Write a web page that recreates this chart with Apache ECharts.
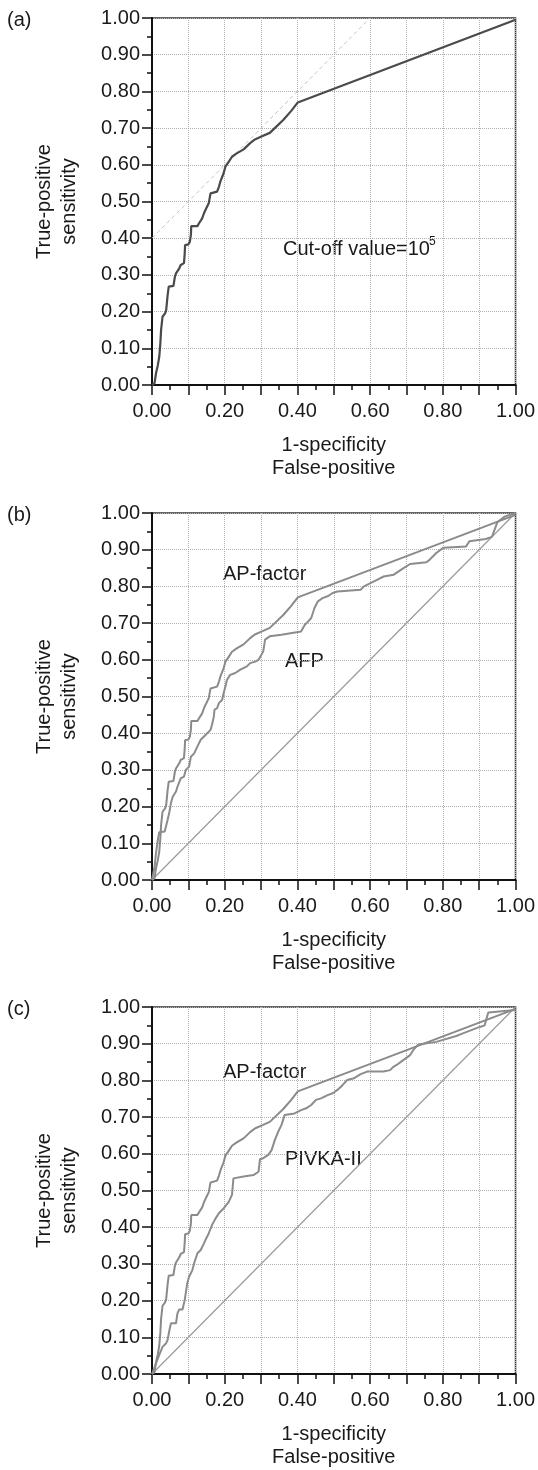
<!DOCTYPE html>
<html>
<head>
<meta charset="utf-8">
<script src="https://cdn.jsdelivr.net/npm/echarts@6/dist/echarts.min.js"></script>
<style>
  html, body { margin: 0; padding: 0; background: #fff; }
  #main { width: 538px; height: 1470px; }
</style>
</head>
<body>
<div id="main"></div>
<script>
// ROC curves, values as [1-specificity, sensitivity]
var apFactor = [
    [0, 0], [0.007, 0.005], [0.011, 0.032], [0.016, 0.054], [0.020, 0.077], [0.023, 0.114],
    [0.025, 0.150], [0.027, 0.168], [0.029, 0.186], [0.036, 0.195], [0.039, 0.204],
    [0.043, 0.245], [0.046, 0.268], [0.059, 0.270], [0.063, 0.295], [0.066, 0.304],
    [0.075, 0.318], [0.079, 0.327], [0.088, 0.332], [0.090, 0.359], [0.091, 0.381],
    [0.100, 0.383], [0.104, 0.390], [0.107, 0.409], [0.108, 0.433], [0.125, 0.433],
    [0.129, 0.440], [0.138, 0.454], [0.143, 0.468], [0.147, 0.477], [0.156, 0.495],
    [0.161, 0.522], [0.165, 0.527], [0.179, 0.527], [0.184, 0.540], [0.188, 0.554],
    [0.193, 0.559], [0.197, 0.577], [0.202, 0.595], [0.211, 0.608], [0.220, 0.622],
    [0.233, 0.631], [0.252, 0.642], [0.270, 0.659], [0.283, 0.669], [0.301, 0.677],
    [0.324, 0.687], [0.342, 0.704], [0.361, 0.722], [0.383, 0.747], [0.401, 0.770],
    [1.0, 0.995]
];

var afp = [
    [0, 0], [0.007, 0.036], [0.011, 0.073], [0.016, 0.109], [0.020, 0.130], [0.035, 0.132],
    [0.039, 0.136], [0.043, 0.164], [0.048, 0.186], [0.052, 0.209], [0.057, 0.227],
    [0.066, 0.241], [0.070, 0.254], [0.079, 0.277], [0.088, 0.282], [0.093, 0.300],
    [0.102, 0.309], [0.107, 0.336], [0.116, 0.345], [0.125, 0.364], [0.134, 0.382],
    [0.143, 0.391], [0.152, 0.400], [0.161, 0.409], [0.165, 0.423], [0.170, 0.445],
    [0.172, 0.464], [0.179, 0.468], [0.184, 0.482], [0.193, 0.491], [0.197, 0.509],
    [0.202, 0.527], [0.206, 0.545], [0.215, 0.559], [0.229, 0.564], [0.243, 0.573],
    [0.261, 0.582], [0.270, 0.591], [0.284, 0.595], [0.293, 0.600], [0.301, 0.614],
    [0.306, 0.623], [0.311, 0.655], [0.324, 0.664], [0.356, 0.668], [0.410, 0.677],
    [0.420, 0.695], [0.429, 0.704], [0.438, 0.714], [0.447, 0.741], [0.456, 0.759],
    [0.469, 0.768], [0.483, 0.773], [0.497, 0.782], [0.510, 0.786], [0.574, 0.791],
    [0.583, 0.800], [0.601, 0.809], [0.619, 0.818], [0.637, 0.827], [0.665, 0.832],
    [0.692, 0.850], [0.710, 0.861], [0.755, 0.866], [0.764, 0.873], [0.782, 0.891],
    [0.801, 0.905], [0.864, 0.909], [0.873, 0.923], [0.918, 0.929], [0.935, 0.935],
    [0.950, 0.975], [0.970, 0.990], [1.0, 1.0]
];

var pivka = [
    [0, 0], [0.011, 0.029], [0.020, 0.052], [0.029, 0.074], [0.039, 0.084], [0.043, 0.093],
    [0.048, 0.120], [0.052, 0.138], [0.066, 0.138], [0.070, 0.165], [0.075, 0.176],
    [0.084, 0.176], [0.090, 0.202], [0.097, 0.247], [0.102, 0.265], [0.111, 0.283],
    [0.116, 0.302], [0.125, 0.329], [0.134, 0.338], [0.143, 0.356], [0.147, 0.365],
    [0.156, 0.383], [0.165, 0.406], [0.175, 0.424], [0.184, 0.438], [0.197, 0.451],
    [0.211, 0.469], [0.220, 0.488], [0.224, 0.533], [0.252, 0.538], [0.279, 0.542],
    [0.293, 0.551], [0.297, 0.585], [0.306, 0.588], [0.320, 0.597], [0.329, 0.610],
    [0.338, 0.638], [0.347, 0.660], [0.356, 0.678], [0.365, 0.706], [0.392, 0.710],
    [0.410, 0.719], [0.424, 0.724], [0.438, 0.733], [0.451, 0.747], [0.465, 0.751],
    [0.483, 0.760], [0.497, 0.765], [0.510, 0.774], [0.524, 0.787], [0.537, 0.801],
    [0.556, 0.806], [0.574, 0.817], [0.592, 0.824], [0.637, 0.824], [0.655, 0.828],
    [0.664, 0.837], [0.673, 0.842], [0.692, 0.856], [0.710, 0.869], [0.719, 0.883],
    [0.733, 0.898], [0.782, 0.905], [0.837, 0.921], [0.855, 0.928], [0.900, 0.945],
    [0.915, 0.950], [0.925, 0.985], [1.0, 0.992]
];

// tangent at the cut-off point (panel a) and chance line (panels b, c)
var tangentLine = [[0, 0.40], [0.60, 1.00]];
var chanceLine = [[0, 0], [1, 1]];

var panelLabels = ['(a)', '(b)', '(c)'];
var panelTops = [18, 513, 1007];

var FONT = 'Liberation Sans, Arial, Helvetica, sans-serif';
var TXT = '#1a1a1a';
var FS = 20;

var myChart = echarts.init(document.getElementById('main'), null, {renderer: 'canvas'});

var grids = [], xAxes = [], yAxes = [];
panelTops.forEach(function (top, i) {
    grids.push({
        left: 152, top: top, width: 368, height: 367,
        show: true, borderColor: '#333', borderWidth: 1.5, backgroundColor: 'transparent'
    });
    xAxes.push({
        type: 'value', gridIndex: i, min: 0, max: 1, interval: 0.1,
        name: '1-specificity\nFalse-positive', nameLocation: 'middle', nameGap: 49,
        nameTextStyle: {fontSize: FS, lineHeight: 23, color: TXT, fontFamily: FONT},
        axisLine: {show: true, onZero: false, lineStyle: {color: '#111', width: 2}},
        axisTick: {show: true, length: 10, lineStyle: {color: '#111', width: 1.5}},
        minorTick: {show: true, splitNumber: 2, length: 5, lineStyle: {color: '#111', width: 1.5}},
        axisLabel: {
            margin: 16, fontSize: FS, color: TXT, fontFamily: FONT,
            formatter: function (v) {
                return Math.round(v * 10) % 2 === 0 ? v.toFixed(2) : '';
            }
        },
        splitLine: {show: true, lineStyle: {color: '#b0b0b0', width: 1, type: 'dotted'}}
    });
    yAxes.push({
        type: 'value', gridIndex: i, min: 0, max: 1, interval: 0.1,
        name: 'True-positive\nsensitivity', nameLocation: 'middle', nameRotate: 90, nameGap: 70,
        nameTextStyle: {fontSize: FS, lineHeight: 25, color: TXT, fontFamily: FONT},
        axisLine: {show: true, onZero: false, lineStyle: {color: '#111', width: 2}},
        axisTick: {show: true, length: 10, lineStyle: {color: '#111', width: 1.5}},
        minorTick: {show: true, splitNumber: 2, length: 5, lineStyle: {color: '#111', width: 1.5}},
        axisLabel: {
            margin: 12, fontSize: FS, color: TXT, fontFamily: FONT,
            formatter: function (v) { return v.toFixed(2); }
        },
        splitLine: {show: true, lineStyle: {color: '#b0b0b0', width: 1, type: 'dotted'}}
    });
});

function curve(data, idx, color, width, type) {
    return {
        type: 'line', data: data, xAxisIndex: idx, yAxisIndex: idx,
        showSymbol: false, symbol: 'none', animation: false, silent: true,
        lineStyle: {color: color, width: width, type: type || 'solid'}
    };
}

var series = [
    // (a)
    curve(tangentLine, 0, '#c4c4c4', 1, [4, 3]),
    curve(apFactor, 0, '#4a4a4a', 2.2),
    // (b)
    curve(chanceLine, 1, '#9a9a9a', 1.2),
    curve(afp, 1, '#8c8c8c', 2),
    curve(apFactor, 1, '#8a8a8a', 2),
    // (c)
    curve(chanceLine, 2, '#9a9a9a', 1.2),
    curve(pivka, 2, '#8c8c8c', 2),
    curve(apFactor, 2, '#8a8a8a', 2)
];

function txt(x, y, s, size) {
    return {
        type: 'text', left: x, top: y,
        style: {text: s, fill: TXT, font: (size || FS) + 'px ' + FONT}
    };
}

var graphic = [];
panelLabels.forEach(function (lab, i) {
    graphic.push(txt(7, panelTops[i] - 8, lab));
});
graphic.push(txt(283, 239, 'Cut-off value=10'));
graphic.push(txt(429, 236, '5', 12));
graphic.push(txt(223, 564, 'AP-factor'));
graphic.push(txt(285, 651, 'AFP'));
graphic.push(txt(223, 1062, 'AP-factor'));
graphic.push(txt(285, 1149, 'PIVKA-II'));

var option = {
    animation: false,
    backgroundColor: '#fff',
    textStyle: {fontFamily: FONT},
    grid: grids,
    xAxis: xAxes,
    yAxis: yAxes,
    series: series,
    graphic: graphic
};

myChart.setOption(option);
</script>
</body>
</html>
